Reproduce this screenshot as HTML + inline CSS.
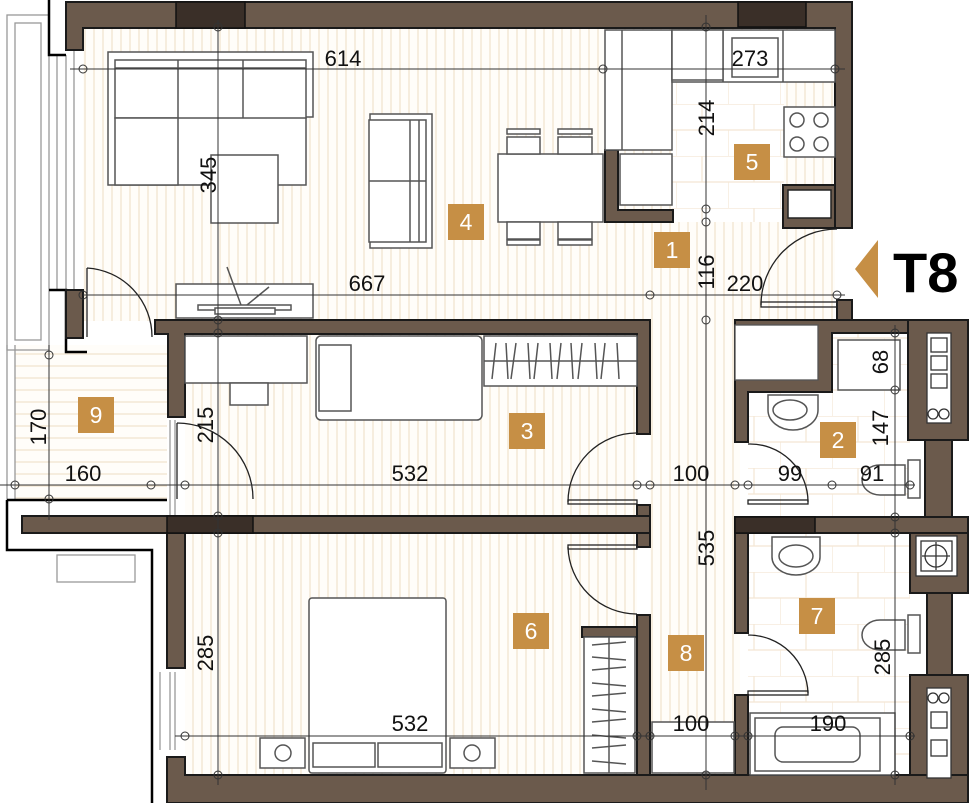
<!DOCTYPE html>
<html><head><meta charset="utf-8"><style>
html,body{margin:0;padding:0;background:#fff;}
svg{display:block;}
text{font-family:"Liberation Sans",sans-serif;}
.d{font-size:22px;fill:#111;}
.n{font-size:23px;fill:#fff;}
</style></head><body>
<svg width="971" height="803" viewBox="0 0 971 803" xmlns="http://www.w3.org/2000/svg">
<defs>
<pattern id="vs" width="9" height="10" patternUnits="userSpaceOnUse"><rect width="9" height="10" fill="#fffdf9"/><line x1="4" y1="0" x2="4" y2="10" stroke="#f1e3cc" stroke-width="1.2"/></pattern>
<pattern id="hs" width="10" height="12" patternUnits="userSpaceOnUse"><rect width="10" height="12" fill="#fffdf9"/><line x1="0" y1="6" x2="10" y2="6" stroke="#f1e3cc" stroke-width="1.2"/></pattern>
<pattern id="tl" width="52" height="52" patternUnits="userSpaceOnUse"><rect width="52" height="52" fill="#fff"/><path d="M0 0H52M0 26H52M26 0V26M0 26V52" stroke="#f3e6d4" stroke-width="1.2" fill="none"/></pattern>
</defs>
<g stroke="none">
<rect x="83" y="28" width="752" height="293" fill="url(#vs)"/>
<rect x="185" y="334" width="452" height="182" fill="url(#vs)"/>
<rect x="185" y="533" width="452" height="242" fill="url(#vs)"/>
<rect x="650" y="222" width="90" height="553" fill="url(#vs)"/>
<rect x="672" y="80" width="112" height="142" fill="url(#tl)"/>
<rect x="748" y="333" width="162" height="184" fill="url(#tl)"/>
<rect x="748" y="533" width="162" height="242" fill="url(#tl)"/>
<rect x="15" y="345" width="152" height="155" fill="url(#hs)"/>
</g>
<g fill="none" stroke="#999" stroke-width="1.3">
<rect x="7" y="15" width="42" height="335"/><rect x="15" y="23" width="26" height="317"/>
<line x1="7" y1="345" x2="7" y2="500"/><line x1="15" y1="345" x2="15" y2="500"/>
<line x1="57" y1="55" x2="57" y2="290"/><line x1="66" y1="55" x2="66" y2="290"/><line x1="74" y1="50" x2="74" y2="290"/>
<rect x="57" y="555" width="78" height="27"/>
<line x1="170" y1="420" x2="170" y2="515"/><line x1="175" y1="420" x2="175" y2="515"/>
<line x1="160" y1="672" x2="160" y2="750"/><line x1="170" y1="672" x2="170" y2="750"/><line x1="175" y1="672" x2="175" y2="750"/>
</g>
<g fill="none" stroke="#000" stroke-width="2.5">
<path d="M49 0V55H66"/><path d="M49 290H66V352H87"/>
<path d="M7 500H167M7 500V550H152V803"/>
</g>
<!-- walls -->
<g fill="#6b5a4c" stroke="#1a1a1a" stroke-width="2">
<path d="M66 2H852V228H835V28H83V50H66Z"/>
<rect x="66" y="290" width="17" height="48"/>
<rect x="837" y="300" width="15" height="20"/>
<path d="M155 320H650V434H637V334H185V417H168V334H155Z"/>
<rect x="637" y="505" width="13" height="42"/>
<rect x="22" y="516" width="628" height="17"/>
<rect x="167" y="533" width="18" height="135"/>
<path d="M167 757H185V775H968V803H167Z"/>
<rect x="637" y="615" width="13" height="160"/>
<rect x="582" y="627" width="55" height="10"/>
<path d="M605 150H618V210H673V222H605Z"/>
<path d="M783 185H835V228H783Z"/>
<path d="M735 320H968V333H832V392H748V442H735V392H735Z"/>
<rect x="735" y="517" width="233" height="16"/>
<rect x="735" y="533" width="13" height="100"/>
<rect x="735" y="695" width="13" height="80"/>
<!-- right column -->
<rect x="908" y="320" width="60" height="120"/>
<rect x="925" y="440" width="27" height="77"/>
<rect x="910" y="533" width="58" height="60"/>
<rect x="927" y="593" width="25" height="87"/>
<rect x="910" y="675" width="58" height="100"/>
</g>
<rect x="735" y="325" width="83" height="55" fill="#fff" stroke="#555" stroke-width="1.3"/>
<rect x="788" y="190" width="43" height="28" fill="#fff" stroke="#222" stroke-width="1.5"/>
<g fill="#3a2f28" stroke="#111" stroke-width="1.5">
<rect x="176" y="2" width="69" height="26"/><rect x="738" y="2" width="68" height="25"/>
<rect x="167" y="516" width="86" height="17"/><rect x="735" y="517" width="80" height="16"/>
</g>
<!-- shafts -->
<g fill="#fff" stroke="#333" stroke-width="1.3">
<rect x="927" y="333" width="24" height="90"/><rect x="931" y="338" width="16" height="14"/><rect x="931" y="356" width="16" height="14"/><rect x="931" y="374" width="16" height="14"/>
<rect x="916" y="536" width="41" height="40"/><rect x="921" y="541" width="31" height="30"/>
<rect x="927" y="688" width="24" height="90"/><rect x="931" y="712" width="16" height="16"/><rect x="931" y="740" width="16" height="16"/>
<circle cx="933" cy="414" r="5"/><circle cx="944" cy="414" r="5"/>
<circle cx="933" cy="698" r="5"/><circle cx="944" cy="698" r="5"/>
<circle cx="936" cy="556" r="11"/><path d="M922 556H950M936 542V570" fill="none"/>
</g>
<!-- furniture -->
<g fill="#fff" stroke="#555" stroke-width="1.5">
<path d="M108 52H313V117H306V185H108Z"/>
<rect x="115" y="60" width="191" height="58"/><rect x="115" y="118" width="63" height="67"/>
<line x1="178" y1="60" x2="178" y2="118"/><line x1="243" y1="60" x2="243" y2="118"/><line x1="115" y1="68" x2="306" y2="68"/>
<rect x="211" y="155" width="67" height="68"/>
<rect x="370" y="114" width="62" height="134"/><rect x="369" y="120" width="57" height="122"/><line x1="369" y1="181" x2="426" y2="181"/><line x1="410" y1="120" x2="410" y2="242"/><line x1="419" y1="120" x2="419" y2="242"/>
<rect x="498" y="154" width="105" height="68"/>
<rect x="507" y="137" width="33" height="17"/><rect x="558" y="137" width="34" height="17"/><rect x="507" y="222" width="33" height="17"/><rect x="558" y="222" width="34" height="17"/>
<rect x="507" y="129" width="33" height="5"/><rect x="558" y="129" width="34" height="5"/><rect x="507" y="240" width="33" height="5"/><rect x="558" y="240" width="34" height="5"/>
<rect x="176" y="284" width="137" height="34"/><rect x="198" y="305" width="93" height="5"/><rect x="215" y="308" width="60" height="6"/>
<path d="M227 267L241 305M269 287L247 305" />
<rect x="605" y="30" width="67" height="120"/><line x1="622" y1="30" x2="622" y2="150"/>
<rect x="672" y="30" width="163" height="52"/><line x1="723" y1="30" x2="723" y2="82"/><line x1="783" y1="30" x2="783" y2="82"/>
<rect x="672" y="30" width="51" height="50" fill="#fff"/><rect x="732" y="38" width="46" height="39"/>
<rect x="784" y="107" width="51" height="50"/>
<circle cx="797" cy="120" r="7"/><circle cx="821" cy="120" r="7"/><circle cx="797" cy="144" r="7"/><circle cx="821" cy="144" r="7"/>
<rect x="620" y="154" width="52" height="51"/>
<rect x="185" y="336" width="122" height="47"/><rect x="230" y="383" width="38" height="22"/>
<rect x="316" y="336" width="166" height="84" rx="5"/><rect x="319" y="345" width="32" height="66"/>
<rect x="484" y="336" width="153" height="50"/><line x1="484" y1="361" x2="637" y2="361"/>
<path d="M496 343l-4 36M506 343l2 36M516 343l-5 36M528 343l2 36M538 343l-4 36M550 343l2 36M561 343l-4 36M571 343l2 36M582 343l-4 36M595 343l2 36M605 343l-4 36M617 343l2 36"/>
<rect x="309" y="598" width="137" height="175" rx="3"/><rect x="313" y="743" width="62" height="24"/><rect x="378" y="743" width="64" height="24"/>
<rect x="260" y="738" width="45" height="30"/><rect x="450" y="738" width="45" height="30"/>
<circle cx="283" cy="753" r="8"/><circle cx="472" cy="753" r="8"/>
<rect x="584" y="637" width="51" height="136"/><line x1="609" y1="637" x2="609" y2="773"/>
<path d="M592 645l34-3M592 657l34 3M592 670l34-3M592 683l34 3M592 696l34-3M592 709l34 3M592 722l34-3M592 735l34 3M592 748l34-3M592 761l34 3"/>
<rect x="652" y="722" width="82" height="51"/>
<rect x="750" y="713" width="145" height="62"/><rect x="755" y="718" width="125" height="53"/><rect x="775" y="727" width="85" height="35" rx="8"/>
<rect x="838" y="340" width="62" height="50"/>
<path d="M768 395H818V410A25 20 0 0 1 768 410Z"/><ellipse cx="790" cy="410" rx="17" ry="10"/>
<path d="M772 537H820V557A24 18 0 0 1 772 557Z"/><ellipse cx="796" cy="556" rx="17" ry="11"/>
<path d="M905 465H880A18 15 0 0 0 880 495H905Z"/><rect x="908" y="460" width="12" height="38"/>
<path d="M905 620H880A18 15 0 0 0 880 650H905Z"/><rect x="908" y="615" width="12" height="38"/>
</g>
<!-- doors -->
<g fill="none" stroke="#222" stroke-width="1.3">
<path d="M87 268A69 69 0 0 1 152 337"/><line x1="87" y1="268" x2="87" y2="337"/>
<path d="M761 305A76 76 0 0 1 837 229"/><rect x="761" y="302" width="76" height="5"/>
<path d="M568 502A69 69 0 0 1 637 433"/><rect x="568" y="500" width="69" height="4"/>
<path d="M568 547A69 69 0 0 0 637 614"/><rect x="568" y="545" width="69" height="4"/>
<path d="M177 423A76 76 0 0 1 253 499"/><line x1="177" y1="423" x2="177" y2="499"/>
<path d="M748 444A58 58 0 0 1 808 502"/><rect x="748" y="500" width="60" height="4"/>
<path d="M748 635A60 60 0 0 1 808 693"/><rect x="748" y="691" width="60" height="4"/>
</g>
<!-- dimension lines -->
<g stroke="#333" stroke-width="1" fill="none">
<line x1="70" y1="69" x2="845" y2="69"/><line x1="83" y1="295" x2="845" y2="295"/>
<line x1="0" y1="485" x2="915" y2="485"/><line x1="175" y1="736" x2="915" y2="736"/>
<line x1="218" y1="20" x2="218" y2="785"/><line x1="706" y1="15" x2="706" y2="790"/>
<line x1="895" y1="325" x2="895" y2="785"/><line x1="49" y1="345" x2="49" y2="520"/>
<circle cx="83" cy="69" r="4"/><circle cx="603" cy="69" r="4"/><circle cx="835" cy="69" r="4"/><circle cx="218" cy="27" r="4"/><circle cx="706" cy="27" r="4"/>
<circle cx="83" cy="295" r="4"/><circle cx="650" cy="295" r="4"/><circle cx="837" cy="295" r="4"/><circle cx="218" cy="320" r="4"/><circle cx="218" cy="333" r="4"/>
<circle cx="706" cy="209" r="4"/><circle cx="706" cy="222" r="4"/><circle cx="706" cy="320" r="4"/>
<circle cx="15" cy="485" r="4"/><circle cx="151" cy="485" r="4"/><circle cx="185" cy="485" r="4"/><circle cx="637" cy="485" r="4"/><circle cx="650" cy="485" r="4"/><circle cx="735" cy="485" r="4"/><circle cx="748" cy="485" r="4"/><circle cx="832" cy="485" r="4"/><circle cx="910" cy="485" r="4"/><circle cx="49" cy="499" r="4"/><circle cx="49" cy="355" r="4"/>
<circle cx="218" cy="516" r="4"/><circle cx="218" cy="533" r="4"/><circle cx="895" cy="333" r="4"/><circle cx="895" cy="390" r="4"/><circle cx="895" cy="517" r="4"/><circle cx="895" cy="533" r="4"/>
<circle cx="185" cy="736" r="4"/><circle cx="637" cy="736" r="4"/><circle cx="650" cy="736" r="4"/><circle cx="735" cy="736" r="4"/><circle cx="748" cy="736" r="4"/><circle cx="910" cy="736" r="4"/><circle cx="218" cy="775" r="4"/><circle cx="706" cy="775" r="4"/><circle cx="895" cy="775" r="4"/>
</g>
<!-- dimension text -->
<g class="d" text-anchor="middle">
<text x="343" y="66">614</text><text x="750" y="66">273</text><text x="367" y="291">667</text><text x="745" y="291">220</text>
<text x="83" y="481">160</text><text x="410" y="481">532</text><text x="691" y="481">100</text><text x="790" y="481">99</text><text x="872" y="481">91</text>
<text x="410" y="731">532</text><text x="691" y="731">100</text><text x="828" y="731">190</text>
<text transform="translate(714,118) rotate(-90)">214</text>
<text transform="translate(216,175) rotate(-90)">345</text>
<text transform="translate(714,272) rotate(-90)">116</text>
<text transform="translate(888,362) rotate(-90)">68</text>
<text transform="translate(46,427) rotate(-90)">170</text>
<text transform="translate(213,425) rotate(-90)">215</text>
<text transform="translate(888,428) rotate(-90)">147</text>
<text transform="translate(714,548) rotate(-90)">535</text>
<text transform="translate(213,653) rotate(-90)">285</text>
<text transform="translate(890,657) rotate(-90)">285</text>
</g>
<!-- room labels -->
<g fill="#c68f45">
<rect x="448" y="204" width="36" height="36"/><rect x="734" y="144" width="36" height="36"/><rect x="654" y="232" width="36" height="36"/>
<rect x="78" y="397" width="36" height="36"/><rect x="509" y="413" width="36" height="36"/><rect x="820" y="422" width="36" height="36"/>
<rect x="799" y="598" width="36" height="36"/><rect x="513" y="613" width="36" height="36"/><rect x="668" y="635" width="36" height="36"/>
<path d="M878 240V298L855 269Z"/>
</g>
<g class="n" text-anchor="middle">
<text x="466" y="230">4</text><text x="752" y="170">5</text><text x="672" y="258">1</text><text x="96" y="423">9</text><text x="527" y="439">3</text><text x="838" y="448">2</text><text x="817" y="624">7</text><text x="531" y="639">6</text><text x="686" y="661">8</text>
</g>
<text x="893" y="292" font-size="56" font-weight="bold" fill="#000">T8</text>
</svg>
</body></html>
